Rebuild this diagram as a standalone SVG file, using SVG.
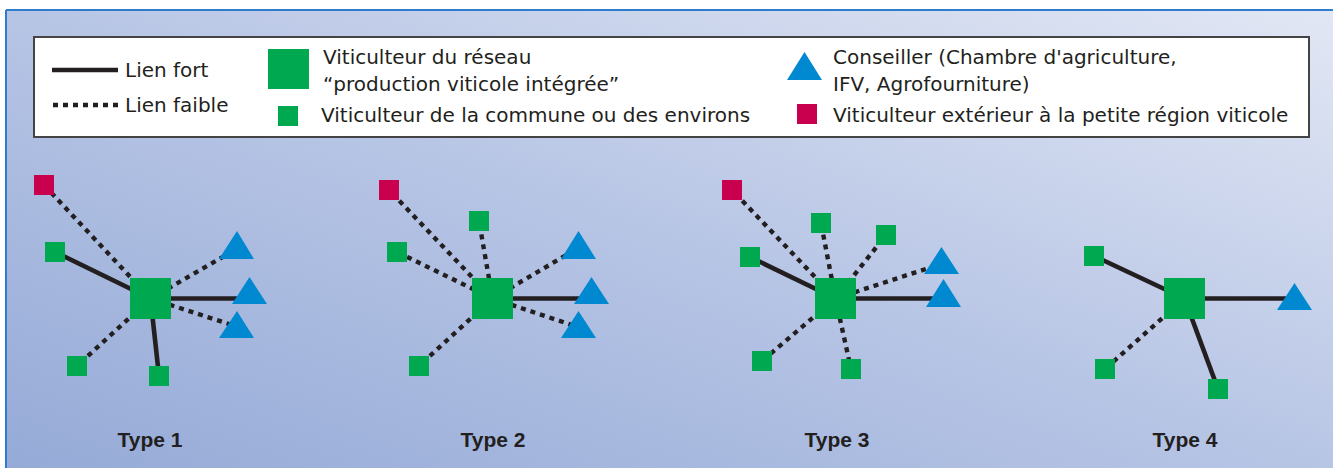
<svg xmlns="http://www.w3.org/2000/svg" width="1333" height="468" viewBox="0 0 1333 468">
<defs>
<linearGradient id="bg" x1="0" y1="1" x2="1" y2="0">
<stop offset="0" stop-color="#95aad7"/>
<stop offset="0.5" stop-color="#b7c5e5"/>
<stop offset="1" stop-color="#e2e7f4"/>
</linearGradient>
<style>
.strong{stroke:#231f20;stroke-width:4.6;fill:none}
.weak{stroke:#231f20;stroke-width:4.4;stroke-dasharray:5 5;fill:none}
.hub{fill:#00a94f}
.local{fill:#00a94f}
.ext{fill:#c8004d}
.adv{fill:#0089d1}
.lt{font-family:"DejaVu Sans","Liberation Sans",sans-serif;font-size:20px;fill:#231f20}
.ty{font-family:"Liberation Sans",Arial,sans-serif;font-size:21px;font-weight:bold;fill:#231f20;text-anchor:middle}
</style>
</defs>
<rect x="0" y="0" width="1333" height="468" fill="#ffffff"/>
<rect x="6" y="10" width="1330" height="462" fill="url(#bg)"/>
<line x1="6" y1="10" x2="1333" y2="10" stroke="#2f7ccc" stroke-width="2"/>
<line x1="6" y1="10" x2="6" y2="468" stroke="#2f7ccc" stroke-width="2"/>

<g id="legend">
<rect x="34" y="37" width="1275" height="100" fill="#ffffff" stroke="#444444" stroke-width="2"/>
<line class="strong" x1="52" y1="70" x2="118" y2="70"/>
<text class="lt" x="125" y="77">Lien fort</text>
<line class="weak" x1="53" y1="105" x2="123" y2="105"/>
<text class="lt" x="125" y="112">Lien faible</text>
<rect class="hub" x="268" y="49" width="41" height="40"/>
<text class="lt" x="323" y="64">Viticulteur du réseau</text>
<text class="lt" x="323" y="91">“production viticole intégrée”</text>
<rect class="local" x="278" y="106" width="20" height="20"/>
<text class="lt" x="321" y="122">Viticulteur de la commune ou des environs</text>
<polygon class="adv" points="804.5,52 822,80 787,80"/>
<text class="lt" x="833" y="64">Conseiller (Chambre d'agriculture,</text>
<text class="lt" x="833" y="91">IFV, Agrofourniture)</text>
<rect class="ext" x="797" y="104" width="20" height="20"/>
<text class="lt" x="833" y="122">Viticulteur extérieur à la petite région viticole</text>
</g>

<g id="connectors">
<!-- Type 1 -->
<line class="weak" x1="150.5" y1="298.5" x2="44" y2="185"/>
<line class="strong" x1="150.5" y1="298.5" x2="55" y2="252"/>
<line class="weak" x1="150.5" y1="298.5" x2="228" y2="254"/>
<line class="strong" x1="150.5" y1="298.5" x2="245" y2="298.5"/>
<line class="weak" x1="150.5" y1="298.5" x2="232" y2="325"/>
<line class="weak" x1="150.5" y1="298.5" x2="77" y2="366"/>
<line class="strong" x1="150.5" y1="298.5" x2="159" y2="376"/>
<!-- Type 2 -->
<line class="weak" x1="492.5" y1="298.5" x2="389" y2="190"/>
<line class="weak" x1="492.5" y1="298.5" x2="479" y2="221"/>
<line class="weak" x1="492.5" y1="298.5" x2="397" y2="252"/>
<line class="weak" x1="492.5" y1="298.5" x2="568" y2="254"/>
<line class="strong" x1="492.5" y1="298.5" x2="590" y2="298.5"/>
<line class="weak" x1="492.5" y1="298.5" x2="572" y2="325"/>
<line class="weak" x1="492.5" y1="298.5" x2="419" y2="366"/>
<!-- Type 3 -->
<line class="weak" x1="835.5" y1="298.5" x2="732" y2="190"/>
<line class="weak" x1="835.5" y1="298.5" x2="821" y2="223"/>
<line class="weak" x1="835.5" y1="298.5" x2="886" y2="235"/>
<line class="strong" x1="835.5" y1="298.5" x2="750" y2="257"/>
<line class="weak" x1="835.5" y1="298.5" x2="935" y2="266"/>
<line class="strong" x1="835.5" y1="298.5" x2="940" y2="298.5"/>
<line class="weak" x1="835.5" y1="298.5" x2="762" y2="361"/>
<line class="weak" x1="835.5" y1="298.5" x2="851" y2="369"/>
<!-- Type 4 -->
<line class="strong" x1="1184.5" y1="298.5" x2="1094" y2="256"/>
<line class="strong" x1="1184.5" y1="298.5" x2="1290" y2="298.5"/>
<line class="weak" x1="1184.5" y1="298.5" x2="1105" y2="369"/>
<line class="strong" x1="1184.5" y1="298.5" x2="1218" y2="389"/>
</g>

<g id="type1">
<rect class="ext" x="34" y="175" width="20" height="20"/>
<rect class="local" x="45" y="242" width="20" height="20"/>
<rect class="hub" x="130" y="278" width="41" height="41"/>
<polygon class="adv" points="237,231 254,259 219,259"/>
<polygon class="adv" points="249.5,277 267,304 232,304"/>
<polygon class="adv" points="237,311 254,338 219,338"/>
<rect class="local" x="67" y="356" width="20" height="20"/>
<rect class="local" x="149" y="366" width="20" height="20"/>
<text class="ty" x="150" y="447">Type 1</text>
</g>

<g id="type2">
<rect class="ext" x="379" y="180" width="20" height="20"/>
<rect class="local" x="469" y="211" width="20" height="20"/>
<rect class="local" x="387" y="242" width="20" height="20"/>
<rect class="hub" x="472" y="278" width="41" height="41"/>
<polygon class="adv" points="578.5,231 596,259 561,259"/>
<polygon class="adv" points="591.5,277 609,304 574,304"/>
<polygon class="adv" points="578.5,311 596,338 561,338"/>
<rect class="local" x="409" y="356" width="20" height="20"/>
<text class="ty" x="493" y="447">Type 2</text>
</g>

<g id="type3">
<rect class="ext" x="722" y="180" width="20" height="20"/>
<rect class="local" x="811" y="213" width="20" height="20"/>
<rect class="local" x="876" y="225" width="20" height="20"/>
<rect class="local" x="740" y="247" width="20" height="20"/>
<rect class="hub" x="815" y="278" width="41" height="41"/>
<polygon class="adv" points="941.5,247 959,274 924,274"/>
<polygon class="adv" points="943.5,279 961,307 926,307"/>
<rect class="local" x="752" y="351" width="20" height="20"/>
<rect class="local" x="841" y="359" width="20" height="20"/>
<text class="ty" x="837" y="447">Type 3</text>
</g>

<g id="type4">
<rect class="local" x="1084" y="246" width="20" height="20"/>
<rect class="hub" x="1164" y="278" width="41" height="41"/>
<polygon class="adv" points="1294.5,283 1312,310 1277,310"/>
<rect class="local" x="1095" y="359" width="20" height="20"/>
<rect class="local" x="1208" y="379" width="20" height="20"/>
<text class="ty" x="1185" y="447">Type 4</text>
</g>
</svg>
